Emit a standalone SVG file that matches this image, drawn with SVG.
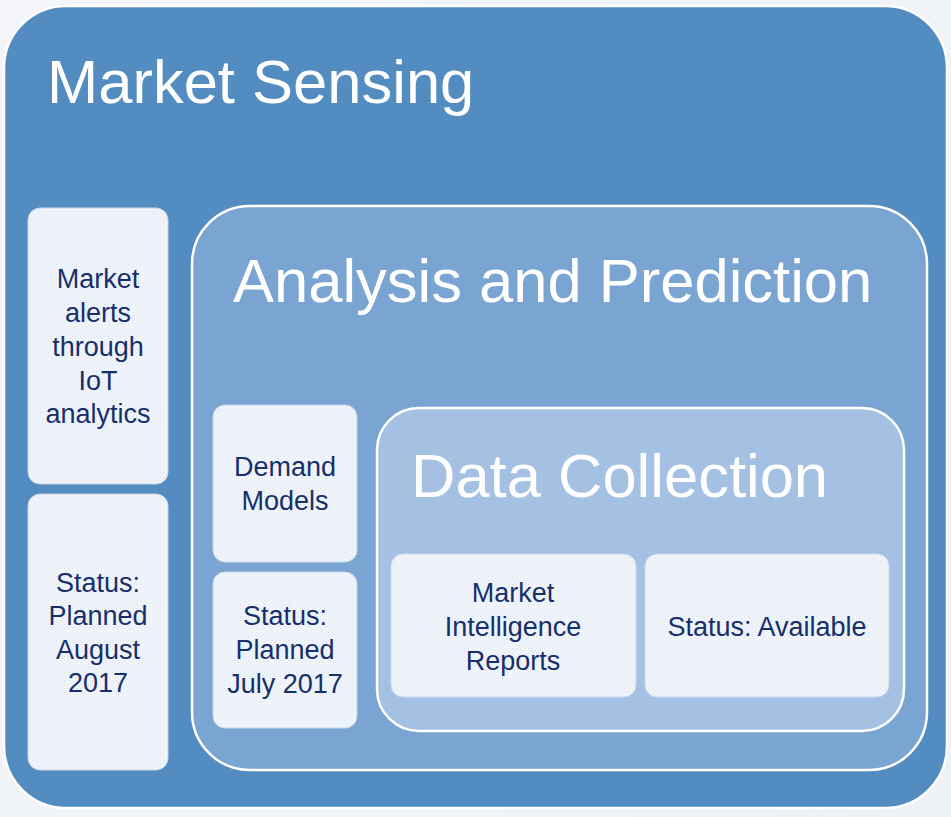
<svg xmlns="http://www.w3.org/2000/svg" width="951" height="817" viewBox="0 0 951 817">
  <defs>
    <linearGradient id="bg" x1="0" y1="0" x2="1" y2="1">
      <stop offset="0" stop-color="#f3f5f8"/>
      <stop offset="1" stop-color="#eef2f6"/>
    </linearGradient>
    <pattern id="dots" width="4" height="4" patternUnits="userSpaceOnUse">
      <rect width="4" height="4" fill="#f1f5fa"/>
      <rect x="0" y="0" width="1" height="1" fill="#d9e3ef"/>
      <rect x="2" y="2" width="1" height="1" fill="#d9e3ef"/>
    </pattern>
  </defs>
  <style>
    .frame { stroke: #ffffff; stroke-width: 2.5; }
    .leaf { fill: url(#dots); stroke: #c9d8ea; stroke-width: 1; }
    .title { font-family: "Liberation Sans", Arial, sans-serif; fill: #ffffff; font-size: 61.5px; }
    .label { font-family: "Liberation Sans", Arial, sans-serif; fill: #172f6a; font-size: 27px; text-anchor: middle; }
  </style>
  <rect width="951" height="817" fill="url(#bg)"/>

  <g id="market-sensing">
    <rect class="frame" x="4" y="6" width="943" height="802" rx="62" ry="62" fill="#538cc0"/>
    <text class="title" x="47" y="103" font-size="60.5">Market Sensing</text>
  </g>

  <g id="market-alerts">
    <rect class="leaf" x="28" y="208" width="140" height="276" rx="12" ry="12"/>
    <text class="label" x="98" y="288">Market</text>
    <text class="label" x="98" y="322">alerts</text>
    <text class="label" x="98" y="356">through</text>
    <text class="label" x="98" y="390">IoT</text>
    <text class="label" x="98" y="423">analytics</text>
  </g>

  <g id="status-august">
    <rect class="leaf" x="28" y="494" width="140" height="276" rx="12" ry="12"/>
    <text class="label" x="98" y="592">Status:</text>
    <text class="label" x="98" y="625">Planned</text>
    <text class="label" x="98" y="659">August</text>
    <text class="label" x="98" y="692">2017</text>
  </g>

  <g id="analysis-prediction">
    <rect class="frame" x="192" y="206" width="735" height="564" rx="58" ry="58" fill="#7aa5d2"/>
    <text class="title" x="233" y="302">Analysis and Prediction</text>
  </g>

  <g id="demand-models">
    <rect class="leaf" x="213" y="405" width="144" height="157" rx="12" ry="12"/>
    <text class="label" x="285" y="476">Demand</text>
    <text class="label" x="285" y="510">Models</text>
  </g>

  <g id="status-july">
    <rect class="leaf" x="213" y="572" width="144" height="156" rx="12" ry="12"/>
    <text class="label" x="285" y="625">Status:</text>
    <text class="label" x="285" y="659">Planned</text>
    <text class="label" x="285" y="693">July 2017</text>
  </g>

  <g id="data-collection">
    <rect class="frame" x="377" y="408" width="527" height="323" rx="42" ry="42" fill="#a4c0e3"/>
    <text class="title" x="411" y="497">Data Collection</text>
  </g>

  <g id="market-intelligence">
    <rect class="leaf" x="391" y="554" width="245" height="143" rx="12" ry="12"/>
    <text class="label" x="513" y="602">Market</text>
    <text class="label" x="513" y="636">Intelligence</text>
    <text class="label" x="513" y="670">Reports</text>
  </g>

  <g id="status-available">
    <rect class="leaf" x="645" y="554" width="244" height="143" rx="12" ry="12"/>
    <text class="label" x="767" y="636">Status: Available</text>
  </g>

  <g id="connectors"/>
</svg>
